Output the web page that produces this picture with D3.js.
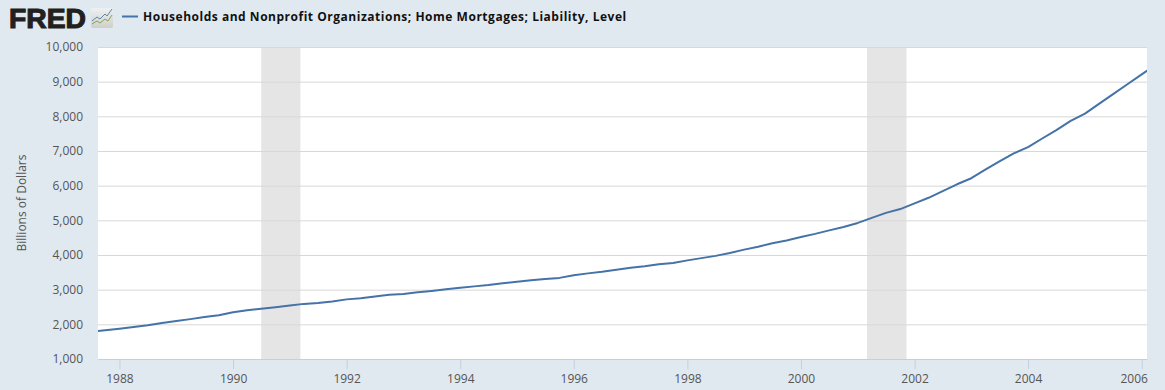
<!DOCTYPE html>
<html>
<head>
<meta charset="utf-8">
<script src="https://cdn.jsdelivr.net/npm/d3@7"></script>
<style>
  html, body { margin: 0; padding: 0; background: #e1e9f0; overflow: hidden; }
  svg { display: block; }
  text { font-family: "Open Sans", sans-serif; }
</style>
</head>
<body>
<div id="chart"></div>
<script>
const seriesTitle = "Households and Nonprofit Organizations; Home Mortgages; Liability, Level";
const yTitle = "Billions of Dollars";

const quarters = [
  "1987-07-01", "1987-10-01",
  "1988-01-01", "1988-04-01", "1988-07-01", "1988-10-01",
  "1989-01-01", "1989-04-01", "1989-07-01", "1989-10-01",
  "1990-01-01", "1990-04-01", "1990-07-01", "1990-10-01",
  "1991-01-01", "1991-04-01", "1991-07-01", "1991-10-01",
  "1992-01-01", "1992-04-01", "1992-07-01", "1992-10-01",
  "1993-01-01", "1993-04-01", "1993-07-01", "1993-10-01",
  "1994-01-01", "1994-04-01", "1994-07-01", "1994-10-01",
  "1995-01-01", "1995-04-01", "1995-07-01", "1995-10-01",
  "1996-01-01", "1996-04-01", "1996-07-01", "1996-10-01",
  "1997-01-01", "1997-04-01", "1997-07-01", "1997-10-01",
  "1998-01-01", "1998-04-01", "1998-07-01", "1998-10-01",
  "1999-01-01", "1999-04-01", "1999-07-01", "1999-10-01",
  "2000-01-01", "2000-04-01", "2000-07-01", "2000-10-01",
  "2001-01-01", "2001-04-01", "2001-07-01", "2001-10-01",
  "2002-01-01", "2002-04-01", "2002-07-01", "2002-10-01",
  "2003-01-01", "2003-04-01", "2003-07-01", "2003-10-01",
  "2004-01-01", "2004-04-01", "2004-07-01", "2004-10-01",
  "2005-01-01", "2005-04-01", "2005-07-01", "2005-10-01",
  "2006-01-01", "2006-04-01"
];
const mortgages = [
  1790, 1830,
  1875, 1925, 1975, 2040,
  2095, 2150, 2210, 2265,
  2350, 2405, 2450, 2495,
  2540, 2590, 2615, 2660,
  2720, 2755, 2805, 2850,
  2875, 2925, 2965, 3010,
  3055, 3095, 3135, 3185,
  3225, 3270, 3305, 3340,
  3415, 3470, 3515, 3575,
  3630, 3675, 3730, 3770,
  3845, 3910, 3975, 4060,
  4155, 4240, 4340, 4420,
  4520, 4610, 4710, 4810,
  4925, 5070, 5215, 5325,
  5490, 5650, 5840, 6040,
  6215, 6460, 6700, 6930,
  7110, 7360, 7600, 7870,
  8080, 8360, 8640, 8925,
  9210, 9490
];
const recessionStart = ["1990-07-01", "2001-03-01"];
const recessionEnd = ["1991-03-10", "2001-11-10"];
const yTicks = [1000, 2000, 3000, 4000, 5000, 6000, 7000, 8000, 9000, 10000];
const xTickYears = [1988, 1990, 1992, 1994, 1996, 1998, 2000, 2002, 2004, 2006];

const width = 1165, height = 390;
const margin = { top: 47, right: 18, bottom: 31, left: 98 };
const parse = d3.utcParse("%Y-%m-%d");

const svg = d3.select("#chart").append("svg")
    .attr("width", width)
    .attr("height", height);

const x = d3.scaleUtc()
    .domain([new Date(Date.UTC(1987, 7, 16)), new Date(Date.UTC(2006, 1, 4))])
    .range([margin.left, width - margin.right]);

const y = d3.scaleLinear()
    .domain([1000, 10000])
    .range([height - margin.bottom, margin.top]);

// --- header: logo + legend ---
const logo = svg.append("g");
logo.append("text")
    .attr("x", 9)
    .attr("y", 27.5)
    .text("FRED")
    .style("font-family", "'Liberation Sans', sans-serif")
    .style("font-size", "28px")
    .style("font-weight", "bold")
    .style("fill", "#231f20")
    .style("stroke", "#231f20")
    .style("stroke-width", 1.1)
    .attr("textLength", 77)
    .attr("lengthAdjust", "spacingAndGlyphs");

const grad = svg.append("defs").append("linearGradient")
    .attr("id", "logoBg")
    .attr("x1", 0).attr("x2", 0).attr("y1", 0).attr("y2", 1);
grad.append("stop").attr("offset", 0).attr("stop-color", "#eef1f3");
grad.append("stop").attr("offset", 1).attr("stop-color", "#cfcfc9");

logo.append("rect")
    .attr("x", 91).attr("y", 8)
    .attr("width", 22).attr("height", 20)
    .attr("rx", 2)
    .attr("fill", "url(#logoBg)");
logo.append("path")
    .attr("d", "M92,21 L97,17 L100,19 L105,14 L107,16 L112,9")
    .attr("fill", "none")
    .attr("stroke", "#5f86ad")
    .attr("stroke-width", 1);
logo.append("path")
    .attr("d", "M92,24 L97,21 L100,23 L105,19 L108,21 L112,15")
    .attr("fill", "none")
    .attr("stroke", "#7fa650")
    .attr("stroke-width", 1);

svg.append("line")
    .attr("x1", 122).attr("x2", 138)
    .attr("y1", 16.5).attr("y2", 16.5)
    .attr("stroke", "#4572a7")
    .attr("stroke-width", 2);
svg.append("text")
    .attr("x", 143)
    .attr("y", 21)
    .text(seriesTitle)
    .style("font-size", "12px")
    .style("font-weight", "bold")
    .style("letter-spacing", "0.52px")
    .style("fill", "#111");

// --- plot area ---
svg.append("rect")
    .attr("x", margin.left)
    .attr("y", margin.top)
    .attr("width", width - margin.left - margin.right)
    .attr("height", height - margin.top - margin.bottom)
    .attr("fill", "#fff");

// recession bands
svg.append("g").selectAll("rect")
    .data(recessionStart)
    .enter().append("rect")
    .attr("x", d => x(parse(d)))
    .attr("y", margin.top)
    .attr("width", (d, i) => x(parse(recessionEnd[i])) - x(parse(d)))
    .attr("height", height - margin.top - margin.bottom)
    .attr("fill", "#e5e5e5");

// y axis with gridlines
const yAxis = svg.append("g")
    .attr("transform", `translate(${margin.left},0)`)
    .call(d3.axisLeft(y)
        .tickValues(yTicks)
        .tickFormat(d3.format(","))
        .tickSize(-(width - margin.left - margin.right))
        .tickPadding(15));
yAxis.select(".domain").remove();
yAxis.selectAll(".tick line").attr("stroke", "#d8d8d8");
yAxis.selectAll(".tick").filter(d => d === 1000).select("line").remove();
yAxis.selectAll("text")
    .style("font-family", "'Open Sans', sans-serif")
    .style("font-size", "12px")
    .style("fill", "#555");

svg.append("text")
    .attr("transform", `translate(26,203) rotate(-90)`)
    .attr("text-anchor", "middle")
    .text(yTitle)
    .style("font-size", "12px")
    .style("fill", "#555");

// data line
const line = d3.line()
    .x((d, i) => x(parse(quarters[i])))
    .y(d => y(d));

svg.append("clipPath").attr("id", "plotClip").append("rect")
    .attr("x", margin.left)
    .attr("y", margin.top)
    .attr("width", width - margin.left - margin.right)
    .attr("height", height - margin.top - margin.bottom);

svg.append("path")
    .datum(mortgages)
    .attr("clip-path", "url(#plotClip)")
    .attr("d", line)
    .attr("fill", "none")
    .attr("stroke", "#4572a7")
    .attr("stroke-width", 2)
    .attr("stroke-linejoin", "round");

// x axis
const xAxis = svg.append("g")
    .attr("transform", `translate(0,${height - margin.bottom})`)
    .call(d3.axisBottom(x)
        .tickValues(xTickYears.map(yr => new Date(Date.UTC(yr, 0, 1))))
        .tickFormat(d3.utcFormat("%Y"))
        .tickSize(10)
        .tickSizeOuter(0)
        .tickPadding(5));
xAxis.select(".domain").attr("stroke", "#c0d0e0");
xAxis.selectAll(".tick line").attr("stroke", "#c0d0e0");
xAxis.selectAll("text")
    .style("font-family", "'Open Sans', sans-serif")
    .style("font-size", "12px")
    .style("fill", "#555");
// last label is pulled left so it stays inside the plot edge
xAxis.selectAll(".tick").filter(d => d.getUTCFullYear() === 2006).select("text")
    .attr("dx", -8);
</script>
</body>
</html>
